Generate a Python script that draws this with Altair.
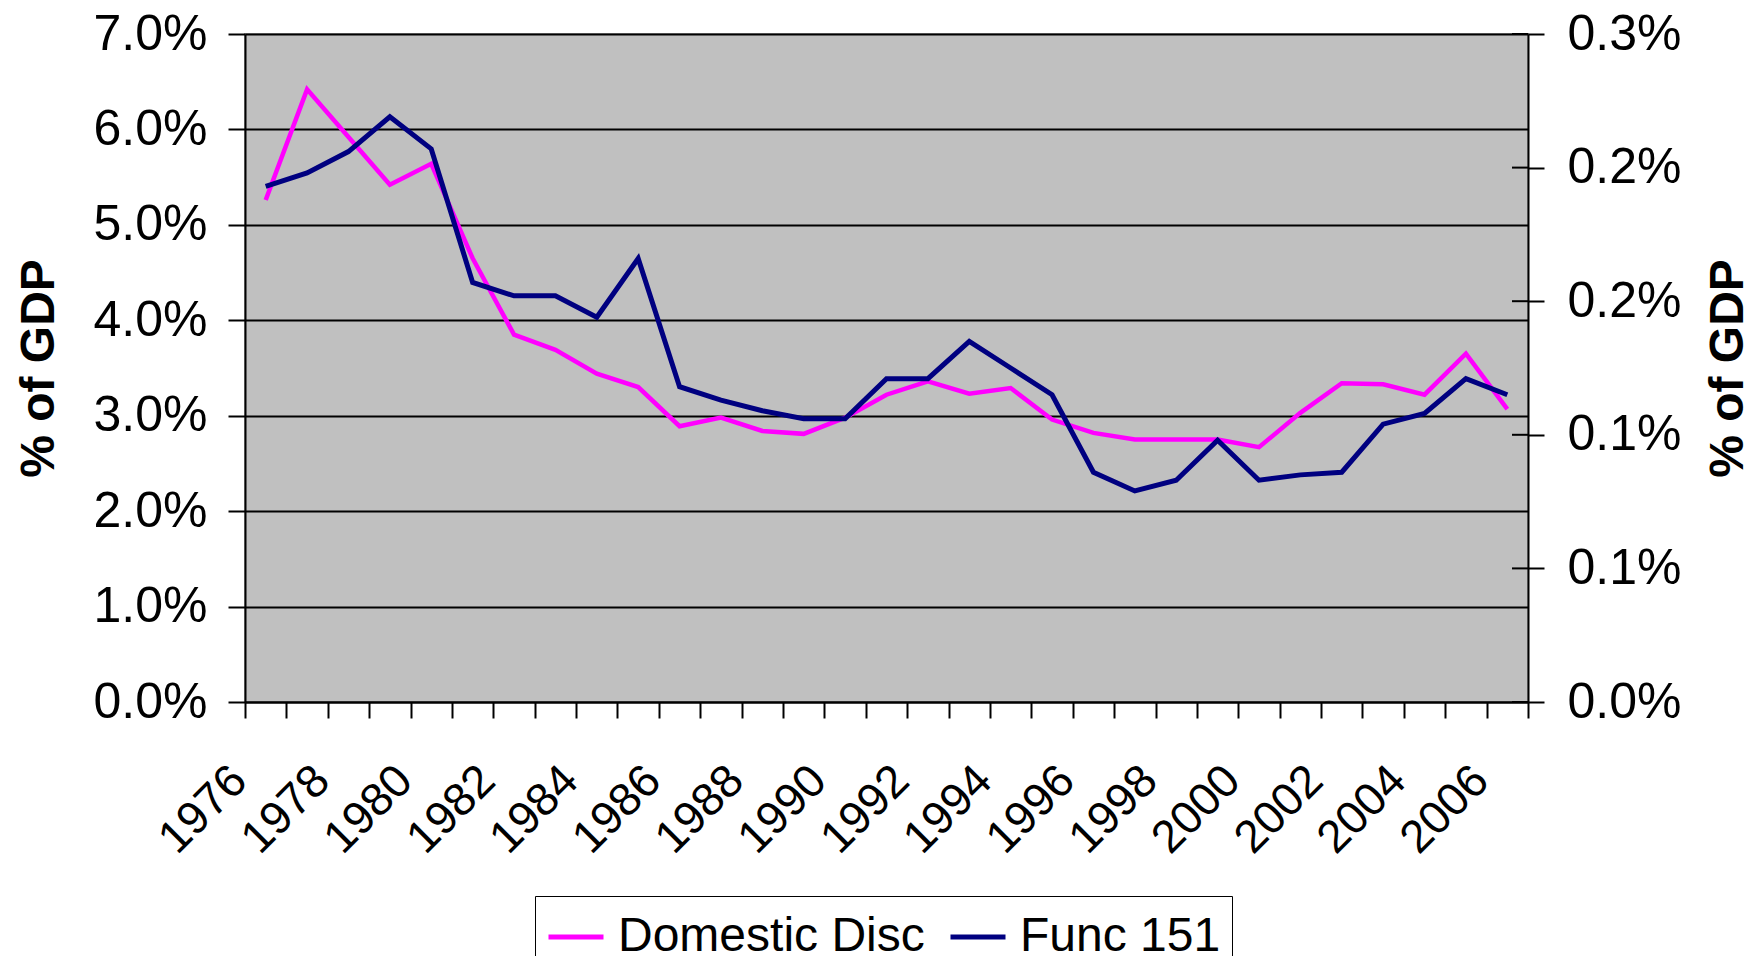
import json
import altair as alt
import pandas as pd

# ---------------- data ----------------
years = [1976, 1977, 1978, 1979, 1980, 1981, 1982, 1983, 1984, 1985, 1986,
         1987, 1988, 1989, 1990, 1991, 1992, 1993, 1994, 1995, 1996, 1997,
         1998, 1999, 2000, 2001, 2002, 2003, 2004, 2005, 2006]

# Domestic discretionary, % of GDP (left axis)
domestic_disc = [5.26, 6.42, 5.92, 5.42, 5.64, 4.65, 3.85, 3.69, 3.44, 3.30, 2.89,
                 2.98, 2.84, 2.81, 2.98, 3.22, 3.36, 3.23, 3.29, 2.96, 2.82, 2.75,
                 2.75, 2.75, 2.67, 3.03, 3.34, 3.33, 3.22, 3.65, 3.07]

# Function 151, % of GDP (right axis)
func_151 = [0.193, 0.198, 0.206, 0.219, 0.207, 0.157, 0.152, 0.152, 0.144, 0.166, 0.118,
            0.113, 0.109, 0.106, 0.106, 0.121, 0.121, 0.135, 0.125, 0.115, 0.086, 0.079,
            0.083, 0.098, 0.083, 0.085, 0.086, 0.104, 0.108, 0.121, 0.115]

series_names = ["Domestic Disc", "Func 151"]
series_colors = ["#FF00FF", "#000080"]

left_ticks = [0, 1, 2, 3, 4, 5, 6, 7]
right_ticks = [0.0, 0.05, 0.10, 0.15, 0.20, 0.25]
right_labels = ["0.0%", "0.1%", "0.1%", "0.2%", "0.2%", "0.3%"]
# category boundaries (Excel puts ticks between categories)
x_boundaries = [y - 0.5 for y in years] + [years[-1] + 0.5]

FONT = "Liberation Sans"
W, H = 1283, 668

df_dom = pd.DataFrame({"year": years, "value": domestic_disc, "series": series_names[0]})
df_func = pd.DataFrame({"year": years, "value": func_151, "series": series_names[1]})
df_rt = pd.DataFrame({"tick": right_ticks})

x_enc = alt.X(
    "year:Q",
    scale=alt.Scale(domain=[x_boundaries[0], x_boundaries[-1]], nice=False, zero=False),
    axis=alt.Axis(
        values=x_boundaries,
        labelExpr="(datum.value + 0.5) % 2 == 0 ? '' + (datum.value + 0.5) : ''",
        labelAngle=315, labelAlign="right", labelBaseline="middle",
        labelOffset=-6, labelPadding=55,
        labelFont=FONT, labelFontSize=46, labelColor="black",
        labelOverlap=False, labelFlush=False, labelBound=False,
        tickSize=16, tickWidth=2, tickColor="black",
        domainColor="black", domainWidth=2,
        grid=False, title=None,
    ),
)

color_enc = alt.Color(
    "series:N",
    scale=alt.Scale(domain=series_names, range=series_colors),
    legend=alt.Legend(
        orient="none", legendX=290, legendY=862, direction="horizontal",
        title=None, symbolType="stroke", symbolSize=3025, symbolStrokeWidth=5,
        labelFont=FONT, labelFontSize=48, labelColor="black", labelOffset=12,
        labelLimit=600, columnPadding=15, padding=11,
        strokeColor="black", fillColor="white",
    ),
)

left_line = alt.Chart(df_dom).mark_line(strokeWidth=4.5).encode(
    x=x_enc,
    y=alt.Y(
        "value:Q",
        scale=alt.Scale(domain=[0, 7], nice=False, zero=True),
        axis=alt.Axis(
            values=left_ticks,
            labelExpr="format(datum.value, '.1f') + '%'",
            labelFont=FONT, labelFontSize=50, labelColor="black", labelPadding=21,
            tickSize=17, tickWidth=2, tickColor="black",
            domainColor="black", domainWidth=2,
            grid=True, gridColor="black", gridWidth=2,
            title="% of GDP", titleFont=FONT, titleFontSize=48, titleFontWeight="bold",
            titleColor="black", titleAngle=270, titleAlign="center", titleBaseline="middle",
            titleX=-206, titleY=H / 2,
        ),
    ),
    color=color_enc,
)

right_line = alt.Chart(df_func).mark_line(strokeWidth=5).encode(
    x=x_enc,
    y=alt.Y(
        "value:Q",
        scale=alt.Scale(domain=[0, 0.25], nice=False, zero=True),
        axis=alt.Axis(
            orient="right",
            values=right_ticks,
            labelExpr=json.dumps(right_labels) + "[round(datum.value * 20)]",
            labelFont=FONT, labelFontSize=50, labelColor="black", labelPadding=23,
            tickSize=16, tickWidth=2, tickColor="black",
            domainColor="black", domainWidth=2,
            grid=False,
            title="% of GDP", titleFont=FONT, titleFontSize=48, titleFontWeight="bold",
            titleColor="black", titleAngle=270, titleAlign="center", titleBaseline="middle",
            titleX=200, titleY=H / 2,
        ),
    ),
    color=color_enc,
)

# inward half of the crossing ticks on the right axis
right_inner_ticks = alt.Chart(df_rt).mark_rule(color="black", strokeWidth=2).encode(
    y=alt.Y("tick:Q", scale=alt.Scale(domain=[0, 0.25], nice=False, zero=True), axis=None),
    x=alt.value(W - 16),
    x2=alt.value(W),
)

chart = (
    alt.layer(left_line, right_line, right_inner_ticks)
    .resolve_scale(y="independent")
    .properties(
        width=W, height=H,
        autosize=alt.AutoSizeParams(type="none"),
        padding={"left": 237, "top": 26, "right": 225, "bottom": 254},
        background="white",
    )
    .configure_view(fill="#C0C0C0", stroke="#A0A0A0", strokeWidth=2)
)

chart.save("out.html", embed_options={"renderer": "svg", "actions": False})
